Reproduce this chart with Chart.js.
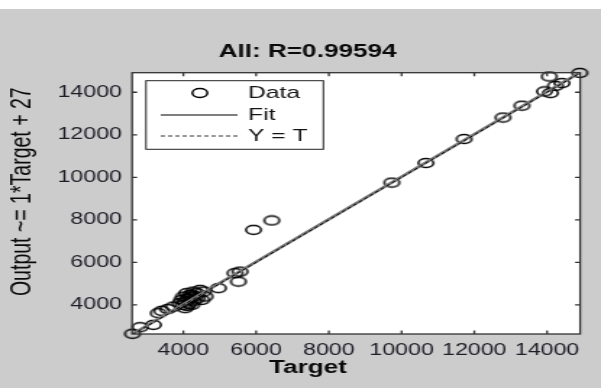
<!DOCTYPE html>
<html><head><meta charset="utf-8">
<script src="https://cdn.jsdelivr.net/npm/chart.js@4.4.1/dist/chart.umd.min.js"></script>
<style>
html,body{margin:0;padding:0;background:#fff;overflow:hidden}
#wrap{position:absolute;left:0;top:0;width:415px;height:388px;transform:scaleX(1.4482);transform-origin:0 0}
canvas{display:block}
</style></head><body>
<div id="wrap"><canvas id="c" width="415" height="388"></canvas></div>
<script>
// Data
const targets = [2600, 2810, 3175, 3310, 3405, 3570, 3725, 3910, 4000, 4093, 4184, 4275, 4368, 4459, 4550,
  4046, 4230, 4505, 4596, 3955, 4050, 4120, 4150, 4200, 4280, 4320, 4100, 4000, 4250, 4380,
  4962, 5421, 5558, 5512, 5930, 6430,
  9730, 10670, 11720, 12790, 13310, 13930, 14090, 14230, 14410, 14060, 14900];
const outputs = [2640, 2950, 3060, 3610, 3720, 3800, 3920, 4080, 4390, 4550, 4470, 4626, 4550, 4706, 4626,
  3845, 4000, 4235, 4391, 4235, 4150, 4300, 4050, 4350, 4200, 4400, 3950, 4000, 4450, 4300,
  4786, 5491, 5566, 5096, 7530, 7970,
  9750, 10670, 11800, 12810, 13370, 14040, 13960, 14300, 14430, 14740, 14910];
const xTicks = [4000, 6000, 8000, 10000, 12000, 14000];
const yTicks = [4000, 6000, 8000, 10000, 12000, 14000];
const xRange = [2590, 14910];
const yRange = [2630, 14920];
const fitCoef = [1, 27]; // slope, intercept
const titleText = 'All: R=0.99594';
const xLabel = 'Target';
const yLabel = 'Output ~= 1*Target + 27';
const legendLabels = ['Data', 'Fit', 'Y = T'];

const FONT = "'Liberation Sans', Arial, sans-serif";
const pts = targets.map((t, i) => ({x: t, y: outputs[i]}));
const fitPts = xRange.map(x => ({x: x, y: fitCoef[0] * x + fitCoef[1]}));
const idPts = xRange.map(x => ({x: x, y: x}));

// open elliptical marker
const marker = document.createElement('canvas');
marker.width = 14; marker.height = 12;
(function () {
  const m = marker.getContext('2d');
  m.strokeStyle = '#000';
  m.lineWidth = 1.5;
  m.beginPath();
  m.ellipse(7, 6, 5.2, 4.4, 0, 0, Math.PI * 2);
  m.stroke();
})();

const deco = {
  id: 'deco',
  beforeDraw(chart) {
    const ctx = chart.ctx, a = chart.chartArea;
    ctx.save();
    ctx.fillStyle = '#cccccc';
    ctx.fillRect(0, 0, chart.width, chart.height);
    ctx.fillStyle = '#ffffff';
    ctx.fillRect(0, 0, chart.width, 9);
    ctx.fillRect(a.left, a.top, a.right - a.left, a.bottom - a.top);
    ctx.restore();
  },
  afterDraw(chart) {
    const ctx = chart.ctx, a = chart.chartArea;
    const xs = chart.scales.x, ys = chart.scales.y;
    ctx.save();
    ctx.strokeStyle = '#333';
    ctx.lineWidth = 1.3;
    ctx.strokeRect(a.left, a.top, a.right - a.left, a.bottom - a.top);
    const tl = 3.5;
    ctx.beginPath();
    xTicks.forEach(v => {
      const px = xs.getPixelForValue(v);
      ctx.moveTo(px, a.bottom); ctx.lineTo(px, a.bottom - tl);
      ctx.moveTo(px, a.top); ctx.lineTo(px, a.top + tl);
    });
    yTicks.forEach(v => {
      const py = ys.getPixelForValue(v);
      ctx.moveTo(a.left, py); ctx.lineTo(a.left + tl, py);
      ctx.moveTo(a.right, py); ctx.lineTo(a.right - tl, py);
    });
    ctx.stroke();

    // legend
    const L = 100.8, T = 80.7, R = 223.3, B = 149.3;
    ctx.fillStyle = '#fff';
    ctx.fillRect(L, T, R - L, B - T);
    ctx.strokeStyle = '#222';
    ctx.lineWidth = 1;
    ctx.strokeRect(L, T, R - L, B - T);
    const rows = [93.3, 115, 136];
    ctx.drawImage(marker, 138 - 7, Math.round(rows[0] - 6));
    ctx.beginPath();
    ctx.strokeStyle = '#555';
    ctx.lineWidth = 1.6;
    ctx.moveTo(111, rows[1]); ctx.lineTo(164, rows[1]);
    ctx.stroke();
    ctx.beginPath();
    ctx.strokeStyle = '#333';
    ctx.lineWidth = 1;
    ctx.setLineDash([3, 2]);
    ctx.moveTo(111, rows[2]); ctx.lineTo(164, rows[2]);
    ctx.stroke();
    ctx.setLineDash([]);
    ctx.fillStyle = '#141414';
    ctx.font = '17px ' + FONT;
    ctx.textAlign = 'left';
    ctx.textBaseline = 'middle';
    legendLabels.forEach((s, i) => ctx.fillText(s, 171.3, rows[i] + 0.5));

    ctx.fillStyle = '#0a0a0a';
    ctx.textAlign = 'center';
    ctx.font = 'bold 18px ' + FONT;
    ctx.fillText(titleText, 212.4, 52);
    ctx.fillText(xLabel, 212.7, 368.5);
    ctx.translate(15.2, 191.7);
    ctx.rotate(-Math.PI / 2);
    ctx.font = '19.5px ' + FONT;
    ctx.fillText(yLabel, 0, 0);
    ctx.restore();
  }
};

new Chart(document.getElementById('c'), {
  type: 'scatter',
  data: {
    datasets: [
      {label: 'Y = T', data: idPts, showLine: true, pointRadius: 0, borderColor: '#000', borderWidth: 1, borderDash: [3, 2], order: 0},
      {label: 'Fit', data: fitPts, showLine: true, pointRadius: 0, borderColor: '#767676', borderWidth: 2.6, order: 1},
      {label: 'Data', data: pts, pointStyle: marker, pointRadius: 5, clip: false, order: 2}
    ]
  },
  options: {
    responsive: false,
    animation: false,
    devicePixelRatio: 1,
    layout: {padding: {left: 0, right: 14.4, top: 72.7, bottom: 0}},
    plugins: {legend: {display: false}, title: {display: false}, tooltip: {enabled: false}},
    scales: {
      x: {
        type: 'linear', min: xRange[0], max: xRange[1],
        grid: {display: false, drawTicks: false}, border: {display: false},
        ticks: {font: {family: FONT, size: 16}, color: '#1e1e28', padding: 7, maxRotation: 0, autoSkip: false,
          callback: v => String(v)},
        afterBuildTicks: s => { s.ticks = xTicks.map(v => ({value: v})); },
        afterFit: s => { s.height = 54; }
      },
      y: {
        type: 'linear', min: yRange[0], max: yRange[1],
        grid: {display: false, drawTicks: false}, border: {display: false},
        ticks: {font: {family: FONT, size: 16}, color: '#1e1e28', padding: 7, autoSkip: false,
          callback: v => String(v)},
        afterBuildTicks: s => { s.ticks = yTicks.map(v => ({value: v})); },
        afterFit: s => { s.height; s.width = 91.2; }
      }
    }
  },
  plugins: [deco]
});
</script>
</body></html>
